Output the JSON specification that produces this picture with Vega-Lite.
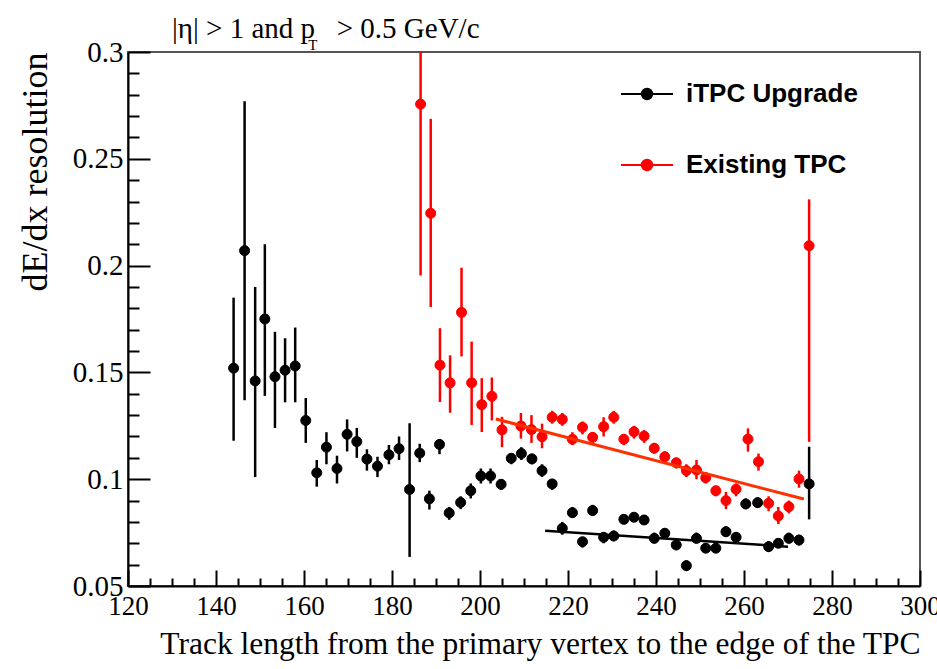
{
  "$schema": "https://vega.github.io/schema/vega-lite/v6.json",
  "width": 792,
  "height": 534,
  "autosize": {"type": "none"},
  "padding": {"left": 128, "top": 52, "right": 17, "bottom": 83},
  "background": "white",
  "config": {
    "view": {"stroke": "#555555", "strokeWidth": 2},
    "axis": {
      "grid": false,
      "domainColor": "#000000",
      "domainWidth": 2,
      "tickColor": "#000000",
      "tickWidth": 2,
      "labelFont": "Liberation Serif",
      "labelFontSize": 27,
      "labelColor": "#000000",
      "titleFont": "Liberation Serif",
      "titleFontWeight": "normal",
      "titleColor": "#000000",
      "labelOverlap": false,
      "labelFlush": false
    }
  },
  "title": {
    "text": "|η| > 1 and p\u00a0\u00a0 > 0.5 GeV/c",
    "anchor": "start",
    "frame": "group",
    "dx": 44,
    "font": "Liberation Serif",
    "fontSize": 29,
    "fontWeight": "normal",
    "color": "#000000",
    "offset": -6
  },
  "datasets": {
    "points": [
      {"series": "iTPC Upgrade", "x": 144.0, "y": 0.152, "lo": 0.118, "hi": 0.185},
      {"series": "iTPC Upgrade", "x": 146.5, "y": 0.207, "lo": 0.137, "hi": 0.277},
      {"series": "iTPC Upgrade", "x": 148.9, "y": 0.146, "lo": 0.101, "hi": 0.190},
      {"series": "iTPC Upgrade", "x": 151.1, "y": 0.175, "lo": 0.139, "hi": 0.210},
      {"series": "iTPC Upgrade", "x": 153.4, "y": 0.148, "lo": 0.124, "hi": 0.169},
      {"series": "iTPC Upgrade", "x": 155.7, "y": 0.151, "lo": 0.136, "hi": 0.166},
      {"series": "iTPC Upgrade", "x": 158.0, "y": 0.153, "lo": 0.136, "hi": 0.171},
      {"series": "iTPC Upgrade", "x": 160.4, "y": 0.1275, "lo": 0.117, "hi": 0.138},
      {"series": "iTPC Upgrade", "x": 162.9, "y": 0.103, "lo": 0.0965, "hi": 0.109},
      {"series": "iTPC Upgrade", "x": 165.1, "y": 0.115, "lo": 0.107, "hi": 0.122},
      {"series": "iTPC Upgrade", "x": 167.5, "y": 0.105, "lo": 0.098, "hi": 0.111},
      {"series": "iTPC Upgrade", "x": 169.8, "y": 0.121, "lo": 0.113, "hi": 0.128},
      {"series": "iTPC Upgrade", "x": 172.0, "y": 0.1176, "lo": 0.110, "hi": 0.124},
      {"series": "iTPC Upgrade", "x": 174.3, "y": 0.1094, "lo": 0.104, "hi": 0.114},
      {"series": "iTPC Upgrade", "x": 176.7, "y": 0.1061, "lo": 0.101, "hi": 0.1105},
      {"series": "iTPC Upgrade", "x": 179.3, "y": 0.1114, "lo": 0.107, "hi": 0.116},
      {"series": "iTPC Upgrade", "x": 181.6, "y": 0.1143, "lo": 0.109, "hi": 0.120},
      {"series": "iTPC Upgrade", "x": 184.0, "y": 0.0952, "lo": 0.0636, "hi": 0.1262},
      {"series": "iTPC Upgrade", "x": 186.3, "y": 0.1122, "lo": 0.108, "hi": 0.1166},
      {"series": "iTPC Upgrade", "x": 188.5, "y": 0.0908, "lo": 0.0858, "hi": 0.0946},
      {"series": "iTPC Upgrade", "x": 190.8, "y": 0.1163, "lo": 0.1117, "hi": 0.1188},
      {"series": "iTPC Upgrade", "x": 193.0, "y": 0.0842, "lo": 0.081, "hi": 0.087},
      {"series": "iTPC Upgrade", "x": 195.6, "y": 0.0891, "lo": 0.086, "hi": 0.092},
      {"series": "iTPC Upgrade", "x": 197.9, "y": 0.0946, "lo": 0.091, "hi": 0.098},
      {"series": "iTPC Upgrade", "x": 200.2, "y": 0.1015, "lo": 0.098, "hi": 0.105},
      {"series": "iTPC Upgrade", "x": 202.4, "y": 0.1015, "lo": 0.098, "hi": 0.105},
      {"series": "iTPC Upgrade", "x": 204.8, "y": 0.0976, "lo": 0.095, "hi": 0.100},
      {"series": "iTPC Upgrade", "x": 207.1, "y": 0.1098, "lo": 0.107, "hi": 0.112},
      {"series": "iTPC Upgrade", "x": 209.4, "y": 0.112, "lo": 0.109, "hi": 0.115},
      {"series": "iTPC Upgrade", "x": 211.8, "y": 0.1095, "lo": 0.107, "hi": 0.112},
      {"series": "iTPC Upgrade", "x": 214.1, "y": 0.104, "lo": 0.101, "hi": 0.107},
      {"series": "iTPC Upgrade", "x": 216.4, "y": 0.0978, "lo": 0.095, "hi": 0.100},
      {"series": "iTPC Upgrade", "x": 218.7, "y": 0.077, "lo": 0.074, "hi": 0.080},
      {"series": "iTPC Upgrade", "x": 221.0, "y": 0.0843, "lo": 0.082, "hi": 0.087},
      {"series": "iTPC Upgrade", "x": 223.3, "y": 0.0707, "lo": 0.068, "hi": 0.073},
      {"series": "iTPC Upgrade", "x": 225.6, "y": 0.0853, "lo": 0.083, "hi": 0.088},
      {"series": "iTPC Upgrade", "x": 228.1, "y": 0.0728, "lo": 0.070, "hi": 0.075},
      {"series": "iTPC Upgrade", "x": 230.4, "y": 0.0734, "lo": 0.071, "hi": 0.076},
      {"series": "iTPC Upgrade", "x": 232.7, "y": 0.0812, "lo": 0.079, "hi": 0.083},
      {"series": "iTPC Upgrade", "x": 235.0, "y": 0.0822, "lo": 0.080, "hi": 0.084},
      {"series": "iTPC Upgrade", "x": 237.3, "y": 0.0809, "lo": 0.079, "hi": 0.083},
      {"series": "iTPC Upgrade", "x": 239.6, "y": 0.0723, "lo": 0.070, "hi": 0.075},
      {"series": "iTPC Upgrade", "x": 242.0, "y": 0.0747, "lo": 0.072, "hi": 0.077},
      {"series": "iTPC Upgrade", "x": 244.6, "y": 0.0692, "lo": 0.067, "hi": 0.072},
      {"series": "iTPC Upgrade", "x": 246.9, "y": 0.0595, "lo": 0.057, "hi": 0.062},
      {"series": "iTPC Upgrade", "x": 249.2, "y": 0.0723, "lo": 0.070, "hi": 0.075},
      {"series": "iTPC Upgrade", "x": 251.3, "y": 0.0677, "lo": 0.0655, "hi": 0.070},
      {"series": "iTPC Upgrade", "x": 253.6, "y": 0.0677, "lo": 0.0655, "hi": 0.070},
      {"series": "iTPC Upgrade", "x": 255.9, "y": 0.0754, "lo": 0.073, "hi": 0.078},
      {"series": "iTPC Upgrade", "x": 258.2, "y": 0.0728, "lo": 0.0705, "hi": 0.075},
      {"series": "iTPC Upgrade", "x": 260.4, "y": 0.0884, "lo": 0.086, "hi": 0.091},
      {"series": "iTPC Upgrade", "x": 263.1, "y": 0.089, "lo": 0.0865, "hi": 0.0915},
      {"series": "iTPC Upgrade", "x": 265.6, "y": 0.0684, "lo": 0.066, "hi": 0.071},
      {"series": "iTPC Upgrade", "x": 267.8, "y": 0.070, "lo": 0.068, "hi": 0.072},
      {"series": "iTPC Upgrade", "x": 270.2, "y": 0.0723, "lo": 0.070, "hi": 0.075},
      {"series": "iTPC Upgrade", "x": 272.5, "y": 0.0715, "lo": 0.069, "hi": 0.074},
      {"series": "iTPC Upgrade", "x": 274.8, "y": 0.0978, "lo": 0.0812, "hi": 0.1152},
      {"series": "Existing TPC", "x": 186.5, "y": 0.2756, "lo": 0.1954, "hi": 0.32},
      {"series": "Existing TPC", "x": 188.8, "y": 0.2245, "lo": 0.1806, "hi": 0.2687},
      {"series": "Existing TPC", "x": 190.9, "y": 0.1534, "lo": 0.1361, "hi": 0.1707},
      {"series": "Existing TPC", "x": 193.2, "y": 0.1451, "lo": 0.1311, "hi": 0.158},
      {"series": "Existing TPC", "x": 195.8, "y": 0.1781, "lo": 0.1575, "hi": 0.199},
      {"series": "Existing TPC", "x": 198.1, "y": 0.1451, "lo": 0.1254, "hi": 0.1644},
      {"series": "Existing TPC", "x": 200.4, "y": 0.1349, "lo": 0.1221, "hi": 0.1473},
      {"series": "Existing TPC", "x": 202.7, "y": 0.1388, "lo": 0.1275, "hi": 0.1476},
      {"series": "Existing TPC", "x": 205.0, "y": 0.1231, "lo": 0.115, "hi": 0.1292},
      {"series": "Existing TPC", "x": 209.3, "y": 0.1249, "lo": 0.119, "hi": 0.131},
      {"series": "Existing TPC", "x": 211.7, "y": 0.1232, "lo": 0.117, "hi": 0.130},
      {"series": "Existing TPC", "x": 214.1, "y": 0.1199, "lo": 0.1145, "hi": 0.126},
      {"series": "Existing TPC", "x": 216.4, "y": 0.129, "lo": 0.126, "hi": 0.132},
      {"series": "Existing TPC", "x": 218.7, "y": 0.128, "lo": 0.125, "hi": 0.131},
      {"series": "Existing TPC", "x": 221.0, "y": 0.1187, "lo": 0.116, "hi": 0.122},
      {"series": "Existing TPC", "x": 223.3, "y": 0.1243, "lo": 0.121, "hi": 0.127},
      {"series": "Existing TPC", "x": 225.6, "y": 0.1196, "lo": 0.117, "hi": 0.122},
      {"series": "Existing TPC", "x": 228.1, "y": 0.1246, "lo": 0.120, "hi": 0.129},
      {"series": "Existing TPC", "x": 230.4, "y": 0.129, "lo": 0.126, "hi": 0.132},
      {"series": "Existing TPC", "x": 232.7, "y": 0.1187, "lo": 0.116, "hi": 0.121},
      {"series": "Existing TPC", "x": 235.0, "y": 0.1222, "lo": 0.119, "hi": 0.125},
      {"series": "Existing TPC", "x": 237.3, "y": 0.1202, "lo": 0.117, "hi": 0.123},
      {"series": "Existing TPC", "x": 239.6, "y": 0.1145, "lo": 0.112, "hi": 0.117},
      {"series": "Existing TPC", "x": 242.0, "y": 0.1105, "lo": 0.108, "hi": 0.113},
      {"series": "Existing TPC", "x": 244.6, "y": 0.1077, "lo": 0.105, "hi": 0.110},
      {"series": "Existing TPC", "x": 246.9, "y": 0.104, "lo": 0.101, "hi": 0.107},
      {"series": "Existing TPC", "x": 249.2, "y": 0.1043, "lo": 0.100, "hi": 0.109},
      {"series": "Existing TPC", "x": 251.3, "y": 0.1007, "lo": 0.098, "hi": 0.103},
      {"series": "Existing TPC", "x": 253.6, "y": 0.0946, "lo": 0.092, "hi": 0.097},
      {"series": "Existing TPC", "x": 255.9, "y": 0.090, "lo": 0.086, "hi": 0.094},
      {"series": "Existing TPC", "x": 258.2, "y": 0.0953, "lo": 0.092, "hi": 0.098},
      {"series": "Existing TPC", "x": 260.9, "y": 0.1188, "lo": 0.1129, "hi": 0.1238},
      {"series": "Existing TPC", "x": 263.3, "y": 0.1082, "lo": 0.104, "hi": 0.112},
      {"series": "Existing TPC", "x": 265.6, "y": 0.0887, "lo": 0.085, "hi": 0.092},
      {"series": "Existing TPC", "x": 267.8, "y": 0.0828, "lo": 0.079, "hi": 0.087},
      {"series": "Existing TPC", "x": 270.2, "y": 0.0871, "lo": 0.084, "hi": 0.090},
      {"series": "Existing TPC", "x": 272.5, "y": 0.1001, "lo": 0.096, "hi": 0.104},
      {"series": "Existing TPC", "x": 274.8, "y": 0.2093, "lo": 0.1175, "hi": 0.231}
    ],
    "fits": [
      {"fit": "iTPC", "x": 214.8, "y": 0.0759},
      {"fit": "iTPC", "x": 270.0, "y": 0.0684},
      {"fit": "TPC", "x": 203.6, "y": 0.1282},
      {"fit": "TPC", "x": 273.6, "y": 0.0907}
    ]
  },
  "layer": [
    {
      "encoding": {
        "x": {
          "field": "x",
          "type": "quantitative",
          "scale": {"domain": [120, 300], "nice": false, "zero": false},
          "title": "Track length from the primary vertex to the edge of the TPC",
          "axis": {
            "values": [120,125,130,135,140,145,150,155,160,165,170,175,180,185,190,195,200,205,210,215,220,225,230,235,240,245,250,255,260,265,270,275,280,285,290,295,300],
            "labelExpr": "datum.value % 20 === 0 ? datum.label : ''",
            "tickSize": {"condition": {"test": "datum.value % 20 === 0", "value": -16}, "value": -8},
            "labelPadding": 23,
            "titleFontSize": 31.5,
            "titleAnchor": "end",
            "titlePadding": 1
          }
        },
        "y": {
          "field": "y",
          "type": "quantitative",
          "scale": {"domain": [0.05, 0.3], "nice": false, "zero": false},
          "title": "dE/dx resolution",
          "axis": {
            "values": [0.05,0.06,0.07,0.08,0.09,0.1,0.11,0.12,0.13,0.14,0.15,0.16,0.17,0.18,0.19,0.2,0.21,0.22,0.23,0.24,0.25,0.26,0.27,0.28,0.29,0.3],
            "labelExpr": "abs(datum.value*20 - round(datum.value*20)) < 0.000001 ? format(datum.value, '.2~f') : ''",
            "tickSize": {"condition": {"test": "abs(datum.value*20 - round(datum.value*20)) < 0.000001", "value": -22}, "value": -11},
            "labelPadding": 27,
            "labelFontSize": 29,
            "titleFontSize": 36,
            "titleAnchor": "end",
            "titlePadding": 18
          }
        }
      },
      "layer": [
        {
          "data": {"name": "points"},
          "transform": [{"filter": "datum.series === 'iTPC Upgrade'"}],
          "mark": {"type": "rule", "strokeWidth": 2.5, "clip": true, "color": "#000000"},
          "encoding": {
            "y": {"field": "lo", "type": "quantitative"},
            "y2": {"field": "hi"}
          }
        },
        {
          "data": {"name": "points"},
          "transform": [{"filter": "datum.series === 'Existing TPC'"}],
          "mark": {"type": "rule", "strokeWidth": 2.5, "clip": true, "color": "#ff0000"},
          "encoding": {
            "y": {"field": "lo", "type": "quantitative"},
            "y2": {"field": "hi"}
          }
        },
        {
          "data": {"name": "points"},
          "mark": {"type": "point", "filled": true, "opacity": 1, "size": 100, "shape": "circle", "strokeWidth": 1},
          "encoding": {
            "fill": {
              "field": "series",
              "type": "nominal",
              "scale": {"domain": ["iTPC Upgrade", "Existing TPC"], "range": ["#000000", "#ff0000"]},
              "legend": {
                "title": null,
                "orient": "none",
                "legendX": 492,
                "legendY": 15,
                "symbolType": "M-1,0L1,0M0.2,0A0.2,0.2,0,1,1,-0.2,0A0.2,0.2,0,1,1,0.2,0Z",
                "symbolSize": 2704,
                "symbolStrokeWidth": 2,
                "labelFont": "Liberation Sans",
                "labelFontWeight": "bold",
                "labelFontSize": 26,
                "labelColor": "#000000",
                "labelLimit": 400,
                "labelOffset": 12,
                "rowPadding": 31,
                "padding": 0
              }
            },
            "stroke": {
              "field": "series",
              "type": "nominal",
              "scale": {"domain": ["iTPC Upgrade", "Existing TPC"], "range": ["#000000", "#ff0000"]},
              "legend": {
                "title": null,
                "orient": "none",
                "legendX": 492,
                "legendY": 15,
                "symbolType": "M-1,0L1,0M0.2,0A0.2,0.2,0,1,1,-0.2,0A0.2,0.2,0,1,1,0.2,0Z",
                "symbolSize": 2704,
                "symbolStrokeWidth": 2,
                "labelFont": "Liberation Sans",
                "labelFontWeight": "bold",
                "labelFontSize": 26,
                "labelColor": "#000000",
                "labelLimit": 400,
                "labelOffset": 12,
                "rowPadding": 31,
                "padding": 0
              }
            }
          }
        },
        {
          "data": {"name": "fits"},
          "transform": [{"filter": "datum.fit === 'TPC'"}],
          "mark": {"type": "line", "color": "#ff3000", "strokeWidth": 3},
          "encoding": {}
        },
        {
          "data": {"name": "fits"},
          "transform": [{"filter": "datum.fit === 'iTPC'"}],
          "mark": {"type": "line", "color": "#000000", "strokeWidth": 2.5},
          "encoding": {}
        }
      ]
    },
    {
      "data": {"values": [{"label": "T"}]},
      "mark": {"type": "text", "font": "Liberation Serif", "fontSize": 15, "fill": "#000000", "baseline": "middle", "align": "center", "clip": false},
      "encoding": {
        "x": {
          "datum": 162.0,
          "type": "quantitative",
          "scale": {"domain": [120, 300], "nice": false, "zero": false},
          "title": "Track length from the primary vertex to the edge of the TPC",
          "axis": {
            "values": [120,125,130,135,140,145,150,155,160,165,170,175,180,185,190,195,200,205,210,215,220,225,230,235,240,245,250,255,260,265,270,275,280,285,290,295,300],
            "labelExpr": "datum.value % 20 === 0 ? datum.label : ''",
            "tickSize": {"condition": {"test": "datum.value % 20 === 0", "value": -16}, "value": -8},
            "labelPadding": 23,
            "titleFontSize": 31.5,
            "titleAnchor": "end",
            "titlePadding": 1
          }
        },
        "y": {
          "datum": 0.3033,
          "type": "quantitative",
          "scale": {"domain": [0.05, 0.3], "nice": false, "zero": false},
          "title": "dE/dx resolution",
          "axis": {
            "values": [0.05,0.06,0.07,0.08,0.09,0.1,0.11,0.12,0.13,0.14,0.15,0.16,0.17,0.18,0.19,0.2,0.21,0.22,0.23,0.24,0.25,0.26,0.27,0.28,0.29,0.3],
            "labelExpr": "abs(datum.value*20 - round(datum.value*20)) < 0.000001 ? format(datum.value, '.2~f') : ''",
            "tickSize": {"condition": {"test": "abs(datum.value*20 - round(datum.value*20)) < 0.000001", "value": -22}, "value": -11},
            "labelPadding": 27,
            "labelFontSize": 29,
            "titleFontSize": 36,
            "titleAnchor": "end",
            "titlePadding": 18
          }
        },
        "text": {"field": "label", "type": "nominal"}
      }
    }
  ]
}
